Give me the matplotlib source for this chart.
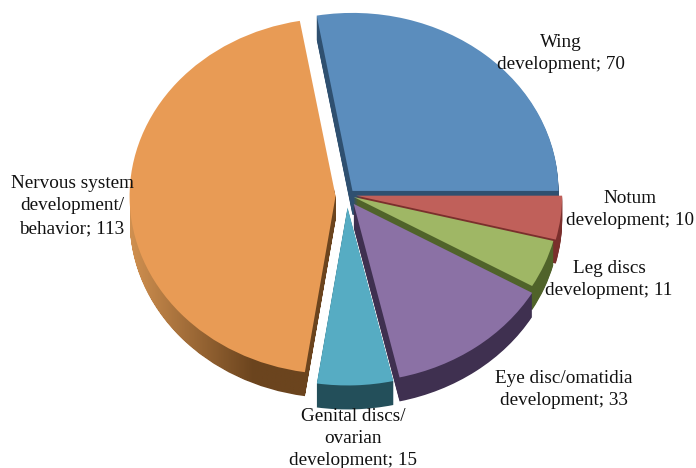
import matplotlib
matplotlib.use('Agg')
import matplotlib.pyplot as plt
import numpy as np
from matplotlib.path import Path
from matplotlib.transforms import IdentityTransform

plt.rcParams['font.family'] = ['Liberation Serif', 'DejaVu Serif']

# data, clockwise from the top
categories = ['Wing\ndevelopment', 'Notum\ndevelopment', 'Leg discs\ndevelopment',
              'Eye disc/omatidia\ndevelopment', 'Genital discs/\novarian\ndevelopment',
              'Nervous system\ndevelopment/\nbehavior']
values = [70, 10, 11, 33, 15, 113]

# styling
explode = [0.03, 0.03, 0.03, 0.055, 0.07, 0.07]
nudge = [(-1.5, 0), (0, 0), (-2, 0), (-3, 1), (-3, 0), (0, 1)]  # pixels
top_colors = ['#5b8dbd', '#c0605a', '#9fb765', '#8b71a5', '#56acc3', '#e89b55']
side_colors = ['#2f5070', '#7a2f2c', '#50632a', '#3f3050', '#234f5a', '#6e4620']
paint_rank = [0, 1, 2, 4, 3, 5]
label_pos = [(561, 53.5), (630, 209.5), (609, 279.5), (564, 389.5), (353, 438.5), (72, 206)]

W, H = 696, 468
CX, CY = 350, 195   # pie centre, pixels
RX, RY = 206, 178   # squashed radii, pixels
DEPTH = 24
START = 100

fig = plt.figure(figsize=(W / 100, H / 100), dpi=100)
ax = fig.add_axes([0, 0, 1, 1])


def draw_pie(dy, colors):
    wedges, _ = ax.pie(values, explode=explode, colors=colors, startangle=START,
                       counterclock=False, center=(0, -dy / RY), radius=1,
                       wedgeprops=dict(linewidth=0, antialiased=True))
    for w, (nx, ny) in zip(wedges, nudge):
        w.set_center((w.center[0] + nx / RX, w.center[1] - ny / RY))
    return wedges


# side walls, one thin layer per pixel of depth
orange_layers = []
for d in range(DEPTH, 0, -1):
    wedges = draw_pie(d, side_colors)
    for w, r in zip(wedges, paint_rank):
        w.set_zorder(2 * r + 1)
    orange_layers.append(wedges[5])

# top faces
tops = draw_pie(0, top_colors)
for w, r in zip(tops, paint_rank):
    w.set_zorder(2 * r + 2)

ax.set_aspect('auto')
ax.set_xlim(-CX / RX, (W - CX) / RX)
ax.set_ylim((CY - H) / RY, CY / RY)
ax.axis('off')

# orange wall has a left-to-right shade
side_path = Path.make_compound_path(
    *[w.get_transform().transform_path(w.get_path()) for w in orange_layers])
for w in orange_layers:
    w.set_visible(False)
grad = np.linspace(0, 1, 256).reshape(1, -1, 1)
light = np.array([0xd0, 0x90, 0x50]) / 255
dark = np.array([0x6b, 0x44, 0x1e]) / 255
shade = np.clip(grad * 1.7, 0, 1)
img = light * (1 - shade) + dark * shade
x0 = (130 - CX) / RX
x1 = (340 - CX) / RX
im = ax.imshow(img, extent=(x0, x1, (CY - 410) / RY, (CY - 190) / RY),
               aspect='auto', zorder=11, interpolation='bilinear')
im.set_clip_path(side_path, IdentityTransform())
ax.set_aspect('auto')
ax.set_xlim(-CX / RX, (W - CX) / RX)
ax.set_ylim((CY - H) / RY, CY / RY)

# labels
for cat, val, (px, py) in zip(categories, values, label_pos):
    ax.text((px - CX) / RX, (CY - py) / RY, f'{cat}; {val}', ha='center', va='center',
            fontsize=13.8, color='#111111', linespacing=1.42, zorder=30)

fig.savefig('out.png', dpi=100)
